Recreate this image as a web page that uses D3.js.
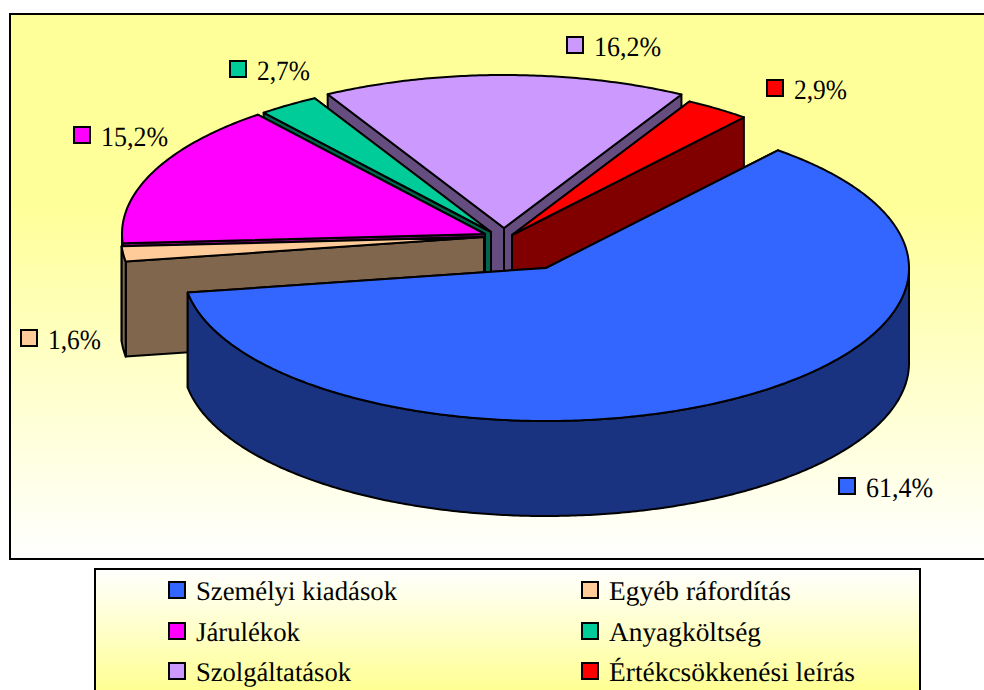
<!DOCTYPE html>
<html><head><meta charset="utf-8">
<style>html,body{margin:0;padding:0;background:#fff;overflow:hidden}svg{display:block}text{font-family:"Liberation Serif","Times New Roman",serif;fill:#000;text-rendering:geometricPrecision}</style>
<script src="https://cdnjs.cloudflare.com/ajax/libs/d3/7.9.0/d3.min.js"></script>
</head><body><svg id="c" width="984" height="690"></svg>
<script>
const categories = ["Személyi kiadások","Egyéb ráfordítás","Járulékok","Anyagköltség","Szolgáltatások","Értékcsökkenési leírás"];
const values = [61.4,1.6,15.2,2.7,16.2,2.9];
const valueLabels = ["61,4%","1,6%","15,2%","2,7%","16,2%","2,9%"];
const topColors = ["#3366FF","#FFCC99","#FF00FF","#00CC99","#CC99FF","#FF0000"];

// layout (not data)
const centers = [[546,268],[484,237],[485,234],[491,232],[504,228],[512,235]];
const labelPos = [[847,486],[29,338],[82,135],[238,69],[575,45],[775,88]];
const labelWidths = [67,53,67,53,67,53];
const legendPos = [[177,590],[590,590],[177,631],[590,631],[177,671],[590,671]];
const legendWidths = [201,182,104,152,155,246];
const paintOrder = [4,3,5,2,1,0];
const RX=363, RY=153, DEPTH=95;

const svg = d3.select("#c");
const defs = svg.append("defs");
const g1 = defs.append("linearGradient").attr("id","plotBg").attr("x1",0).attr("y1",0).attr("x2",0).attr("y2",1);
g1.append("stop").attr("offset","0%").attr("stop-color","#FFFF99");
g1.append("stop").attr("offset","35%").attr("stop-color","#FFFF99");
g1.append("stop").attr("offset","100%").attr("stop-color","#FFFFFF");
const g2 = defs.append("linearGradient").attr("id","legBg").attr("x1",0).attr("y1",0).attr("x2",0).attr("y2",1);
g2.append("stop").attr("offset","0%").attr("stop-color","#FFFFFF");
g2.append("stop").attr("offset","100%").attr("stop-color","#FFFF90");

svg.append("rect").attr("x",10).attr("y",14).attr("width",990).attr("height",545).attr("fill","url(#plotBg)").attr("stroke","#000").attr("stroke-width",2);
svg.append("rect").attr("x",95).attr("y",569).attr("width",825).attr("height",125).attr("fill","url(#legBg)").attr("stroke","#000").attr("stroke-width",2);

const pie = d3.pie().sort(null).startAngle(39.7*Math.PI/180).endAngle((39.7+360)*Math.PI/180);
const arcs = pie(values);
const line = d3.line();
const dark = c => { const k=d3.rgb(c); return d3.rgb(k.r/2,k.g/2,k.b/2).formatHex(); };

function rim(a, c, dz){ return [c[0]+RX*Math.sin(a), c[1]-RY*Math.cos(a)+dz]; }
function samples(a0,a1){ const n=Math.max(2,Math.ceil((a1-a0)/0.01)); return d3.range(n+1).map(i=>a0+(a1-a0)*i/n); }

const pieG = svg.append("g").attr("stroke","#000").attr("stroke-width",2).attr("stroke-linejoin","round");
paintOrder.forEach(i=>{
  const d=arcs[i], c=centers[i], col=topColors[i], dk=dark(col);
  const apexB=[c[0],c[1]+DEPTH];
  const g=pieG.append("g");
  // the cut face nearer the viewer is painted last
  [d.startAngle,d.endAngle].sort((a,b)=>rim(a,c,0)[1]-rim(b,c,0)[1]).forEach(a=>{
    g.append("path").attr("fill",dk).attr("d",line([c,apexB,rim(a,c,DEPTH),rim(a,c,0)])+"Z");
  });
  // outer wall, only the part facing the viewer (angles 90°..270°)
  const lo=Math.max(d.startAngle,Math.PI/2), hi=Math.min(d.endAngle,3*Math.PI/2);
  if(hi>lo){
    const as=samples(lo,hi);
    const pts=as.map(a=>rim(a,c,0)).concat(as.slice().reverse().map(a=>rim(a,c,DEPTH)));
    g.append("path").attr("fill",dk).attr("d",line(pts)+"Z");
  }
  const pts=[c].concat(samples(d.startAngle,d.endAngle).map(a=>rim(a,c,0)));
  g.append("path").attr("fill",col).attr("d",line(pts)+"Z");
});

const lab=svg.append("g");
valueLabels.forEach((t,i)=>{
  const [x,y]=labelPos[i];
  lab.append("rect").attr("x",x-8).attr("y",y-8).attr("width",16).attr("height",16).attr("fill",topColors[i]).attr("stroke","#000").attr("stroke-width",2);
  lab.append("text").attr("x",x+19).attr("y",y+11).attr("font-size",28).attr("textLength",labelWidths[i]).attr("lengthAdjust","spacingAndGlyphs").text(t);
});
const leg=svg.append("g");
categories.forEach((name,i)=>{
  const [x,y]=legendPos[i];
  leg.append("rect").attr("x",x-8).attr("y",y-8).attr("width",16).attr("height",16).attr("fill",topColors[i]).attr("stroke","#000").attr("stroke-width",2);
  leg.append("text").attr("x",x+19).attr("y",y+10).attr("font-size",27).attr("textLength",legendWidths[i]).attr("lengthAdjust","spacingAndGlyphs").text(name);
});
</script></body></html>
